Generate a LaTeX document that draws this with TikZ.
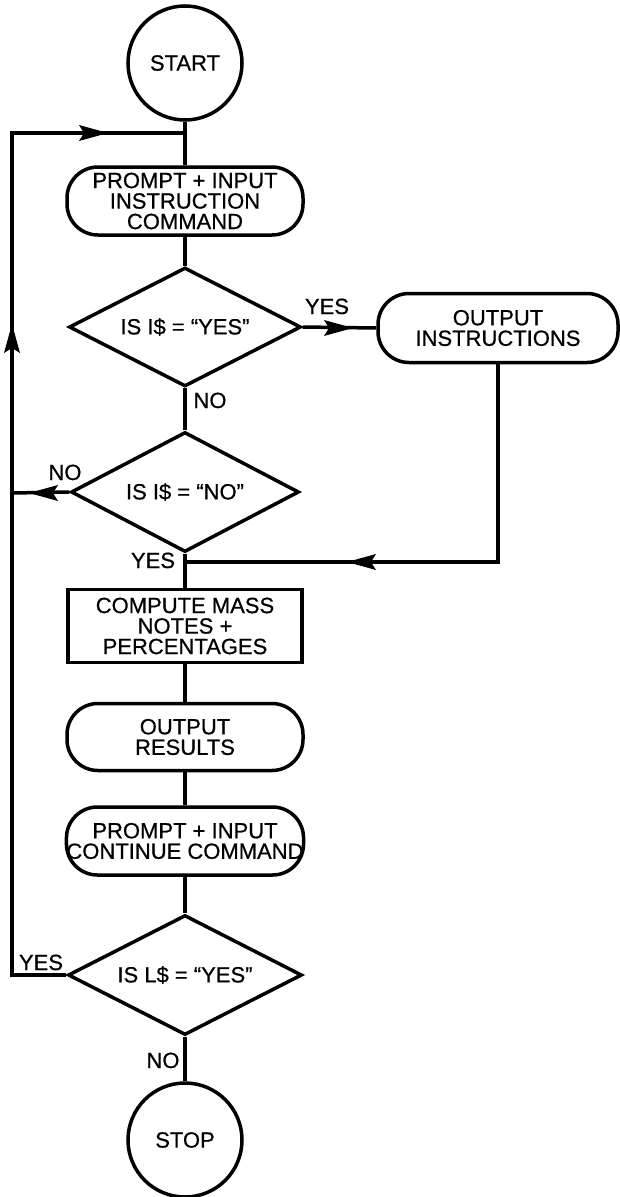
\documentclass[tikz,border=0pt]{standalone}
\usepackage{fontspec}
\setmainfont{Liberation Sans}[FakeBold=0.6]
\usetikzlibrary{shapes.geometric}
\begin{document}
\begin{tikzpicture}[x=1pt,y=-1pt,
  every node/.style={font=\fontsize{22}{20.5}\selectfont, inner sep=0pt},
  ln/.style={line width=3.5pt, line join=miter},
  term/.style={ln, draw, circle, minimum size=114pt},
  rbox/.style={ln, draw, rectangle, rounded corners=31pt, align=center, minimum height=68pt, minimum width=236pt},
  pbox/.style={ln, draw, rectangle, align=center, minimum height=73pt, minimum width=234pt},
  dec/.style={ln, draw, diamond, aspect=2, minimum width=232pt, minimum height=119pt},
  head/.style={fill=black, line join=round},
  lbl/.style={anchor=base}
]
\useasboundingbox (0,0) rectangle (619,1197);

\node[term] (start) at (185,63) {START};
\node[rbox] (p1) at (185,201) {PROMPT + INPUT\\INSTRUCTION\\COMMAND};
\node[dec] (d1) at (185,327) {IS I\$ = “YES”};
\node[rbox, minimum width=240pt, minimum height=69pt] (oi) at (498,328) {OUTPUT\\INSTRUCTIONS};
\node[dec, minimum width=228pt, minimum height=120pt] (d2) at (185,492) {IS I\$ = “NO”};
\node[pbox] (comp) at (185,626) {COMPUTE MASS\\NOTES +\\PERCENTAGES};
\node[rbox, minimum height=67pt] (res) at (185,737) {OUTPUT\\RESULTS};
\node[rbox] (p2) at (185,841) {PROMPT + INPUT\\CONTINUE COMMAND};
\node[dec, minimum width=234pt, minimum height=120pt] (d3) at (185,975) {IS L\$ = “YES”};
\node[term] (stop) at (185,1140) {STOP};

% junctions and arrow tips
\coordinate (j1) at (185,133);
\coordinate (tl) at (12,133);
\coordinate (bl) at (12,975);
\coordinate (upA) at (12,324);
\coordinate (rtA) at (108,133);
\coordinate (yesA) at (353,328);
\coordinate (br) at (oi.south |- 0,562);
\coordinate (j2) at (185,562);
\coordinate (lfA) at (347,562);
\coordinate (noL) at (12,493);
\coordinate (noA) at (29,493);

% main spine
\draw[ln] (start) -- (p1);
\draw[ln] (p1) -- (d1);
\draw[ln] (d1) -- (d2);
\draw[ln] (d2) -- (comp);
\draw[ln] (comp) -- (res);
\draw[ln] (res) -- (p2);
\draw[ln] (p2) -- (d3);
\draw[ln] (d3) -- (stop);

% YES branch from d1 and return
\draw[ln] (d1.east) -- (oi.west);
\draw[ln] (oi.south) -- (br) -- (j2);

% loop back
\draw[ln] (d3.west) -- (bl) -- (tl) -- (j1);

% NO from d2
\draw[ln] (d2.west) -- (noL);

% arrowheads
\fill[head] (upA) -- ++(-8,29) -- ++(8,-5) -- ++(8,5) -- cycle;
\fill[head] (rtA) -- ++(-29,-8) -- ++(5,8) -- ++(-5,8) -- cycle;
\fill[head] (yesA) -- ++(-29,-8) -- ++(5,8) -- ++(-5,8) -- cycle;
\fill[head] (lfA) -- ++(29,-8) -- ++(-5,8) -- ++(5,8) -- cycle;
\fill[head] (noA) -- ++(29,-8) -- ++(-5,8) -- ++(5,8) -- cycle;

% labels
\node[lbl] (l1) at (327,314) {YES};
\node[lbl] (l2) at (210,408) {NO};
\node[lbl] (l3) at (65,480) {NO};
\node[lbl] (l4) at (153,568) {YES};
\node[lbl] (l5) at (41,970) {YES};
\node[lbl] (l6) at (163,1068) {NO};
\end{tikzpicture}
\end{document}
